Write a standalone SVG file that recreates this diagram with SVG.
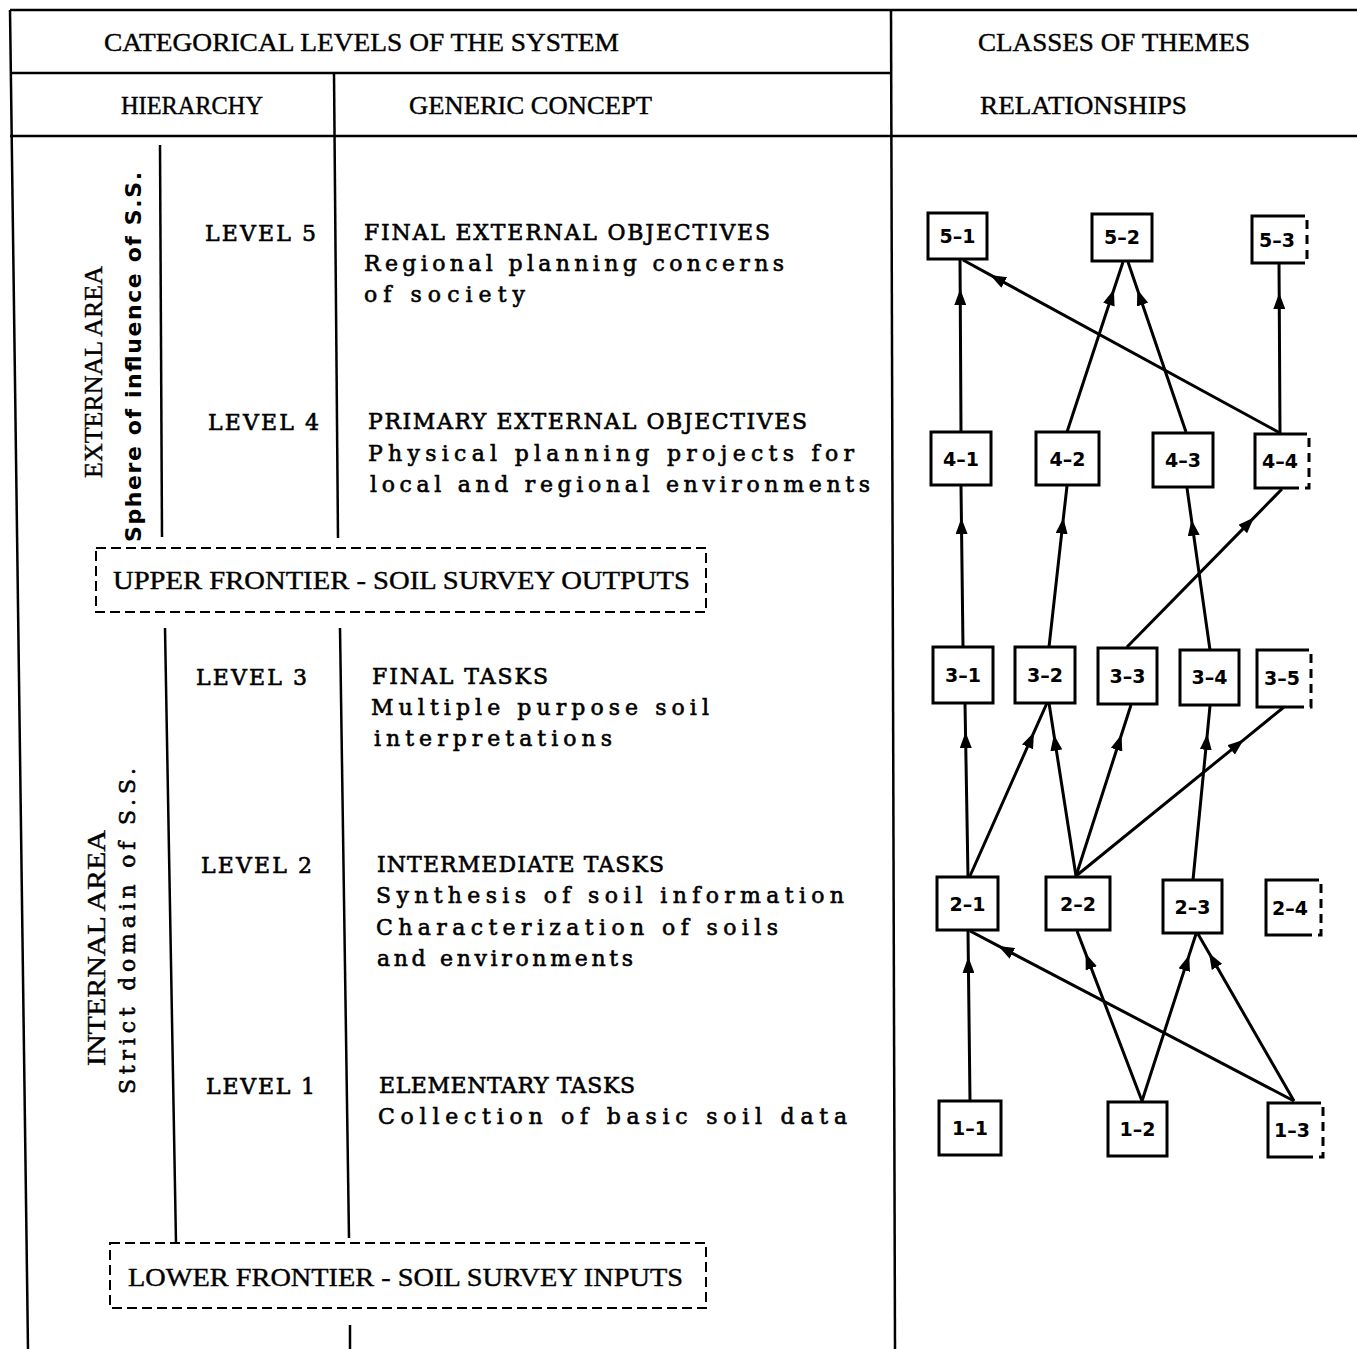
<svg xmlns="http://www.w3.org/2000/svg" width="1357" height="1349" viewBox="0 0 1357 1349">
<style>
.t{font-family:"DejaVu Serif",serif;font-size:22px;fill:#000;stroke:#000;stroke-width:0.6}
.h{font-family:"Liberation Serif",serif;font-size:26px;fill:#000;stroke:#000;stroke-width:0.4}
.s{font-family:"DejaVu Sans",sans-serif;font-size:22px;font-weight:bold;fill:#000}
.n{font-family:"DejaVu Sans",sans-serif;font-size:19px;font-weight:bold;text-anchor:middle;fill:#000}
.box{fill:#fff;stroke:#000;stroke-width:3}
.bs{fill:none;stroke:#000;stroke-width:3}
.bd{fill:none;stroke:#000;stroke-width:3;stroke-dasharray:9,6}
.ln{stroke:#000;stroke-width:2.5;fill:none}
.fr{fill:none;stroke:#000;stroke-width:2;stroke-dasharray:10,5}
.c{stroke:#000;stroke-width:3;fill:none;marker-mid:url(#ah)}
</style>
<defs>
<marker id="ah" markerUnits="userSpaceOnUse" viewBox="0 0 16 12" markerWidth="16" markerHeight="12" refX="16" refY="6" orient="auto">
<path d="M0,0 L16,6 L0,12 z" fill="#000"/>
</marker>
</defs>
<rect width="1357" height="1349" fill="#fff"/>
<g id="table">
<line class="ln" x1="10" y1="10" x2="1357" y2="10" stroke-width="3"/>
<line class="ln" x1="10" y1="73" x2="891" y2="73" stroke-width="3"/>
<line class="ln" x1="10" y1="136" x2="1357" y2="136" stroke-width="3"/>
<line class="ln" x1="10" y1="10" x2="28" y2="1349" stroke-width="2"/>
<line class="ln" x1="891" y1="10" x2="895" y2="1349" stroke-width="2"/>
<line class="ln" x1="334" y1="73" x2="338" y2="538" stroke-width="2"/>
<line class="ln" x1="160" y1="145" x2="162" y2="537" stroke-width="2"/>
<line class="ln" x1="165" y1="628" x2="176" y2="1243" stroke-width="2"/>
<line class="ln" x1="340" y1="628" x2="349" y2="1238" stroke-width="2"/>
<line class="ln" x1="350" y1="1325" x2="350" y2="1349" stroke-width="2"/>
<rect class="fr" x="96" y="548" width="610" height="64"/>
<rect class="fr" x="110" y="1243" width="596" height="65"/>
</g>
<g id="headers">
<text class="h" x="104" y="51" textLength="515" lengthAdjust="spacingAndGlyphs">CATEGORICAL LEVELS OF THE SYSTEM</text>
<text class="h" x="978" y="51" textLength="272" lengthAdjust="spacingAndGlyphs">CLASSES OF THEMES</text>
<text class="h" x="121" y="114" textLength="142" lengthAdjust="spacingAndGlyphs">HIERARCHY</text>
<text class="h" x="409" y="114" textLength="243" lengthAdjust="spacingAndGlyphs">GENERIC CONCEPT</text>
<text class="h" x="980" y="114" textLength="207" lengthAdjust="spacingAndGlyphs">RELATIONSHIPS</text>
<text class="h" x="113" y="589" textLength="577" lengthAdjust="spacingAndGlyphs">UPPER FRONTIER - SOIL SURVEY OUTPUTS</text>
<text class="h" x="128" y="1286" textLength="555" lengthAdjust="spacingAndGlyphs">LOWER FRONTIER - SOIL SURVEY INPUTS</text>
</g>
<g id="areas">
<text class="h" transform="translate(102,478) rotate(-90)" x="0" y="0" textLength="212" lengthAdjust="spacingAndGlyphs">EXTERNAL AREA</text>
<text class="s" transform="translate(141,542) rotate(-90)" x="0" y="0" textLength="370" lengthAdjust="spacing">Sphere of influence of S.S.</text>
<text class="h" transform="translate(105,1066) rotate(-90)" x="0" y="0" textLength="236" lengthAdjust="spacingAndGlyphs">INTERNAL AREA</text>
<text class="t" transform="translate(135,1094) rotate(-90)" x="0" y="0" textLength="326" lengthAdjust="spacing">Strict domain of S.S.</text>
</g>
<g id="levels">
<text class="t" x="205" y="241" textLength="111" lengthAdjust="spacing">LEVEL 5</text>
<text class="t" x="208" y="430" textLength="111" lengthAdjust="spacing">LEVEL 4</text>
<text class="t" x="196" y="685" textLength="111" lengthAdjust="spacing">LEVEL 3</text>
<text class="t" x="201" y="873" textLength="111" lengthAdjust="spacing">LEVEL 2</text>
<text class="t" x="206" y="1094" textLength="109" lengthAdjust="spacing">LEVEL 1</text>
</g>
<g id="concepts">
<text class="t" x="364" y="240" textLength="406" lengthAdjust="spacing">FINAL EXTERNAL OBJECTIVES</text>
<text class="t" x="364" y="271" textLength="420" lengthAdjust="spacing">Regional planning concerns</text>
<text class="t" x="364" y="302" textLength="161" lengthAdjust="spacing">of society</text>
<text class="t" x="368" y="429" textLength="439" lengthAdjust="spacing">PRIMARY EXTERNAL OBJECTIVES</text>
<text class="t" x="368" y="461" textLength="486" lengthAdjust="spacing">Physical planning projects for</text>
<text class="t" x="370" y="492" textLength="500" lengthAdjust="spacing">local and regional environments</text>
<text class="t" x="372" y="684" textLength="176" lengthAdjust="spacing">FINAL TASKS</text>
<text class="t" x="371" y="715" textLength="338" lengthAdjust="spacing">Multiple purpose soil</text>
<text class="t" x="374" y="746" textLength="238" lengthAdjust="spacing">interpretations</text>
<text class="t" x="377" y="872" textLength="287" lengthAdjust="spacing">INTERMEDIATE TASKS</text>
<text class="t" x="376" y="903" textLength="468" lengthAdjust="spacing">Synthesis of soil information</text>
<text class="t" x="376" y="935" textLength="402" lengthAdjust="spacing">Characterization of soils</text>
<text class="t" x="377" y="966" textLength="256" lengthAdjust="spacing">and environments</text>
<text class="t" x="379" y="1093" textLength="256" lengthAdjust="spacing">ELEMENTARY TASKS</text>
<text class="t" x="378" y="1124" textLength="469" lengthAdjust="spacing">Collection of basic soil data</text>
</g>
<g id="connectors">
<path class="c" d="M961,432 L960.2,289 L960,259"/>
<path class="c" d="M1280,433 L990.2,274.9 L963,260"/>
<path class="c" d="M1067,432 L1113.9,289.5 L1123,262"/>
<path class="c" d="M1186,432 L1137.4,289.5 L1128,262"/>
<path class="c" d="M1280,434 L1279.2,293 L1279,264"/>
<path class="c" d="M963,647 L961.4,518 L961,486"/>
<path class="c" d="M1049,647 L1063.4,517.8 L1067,486"/>
<path class="c" d="M1127,647 L1254,517.6 L1282,489"/>
<path class="c" d="M1210,650 L1191.5,519.7 L1187,488"/>
<path class="c" d="M968,876 L965.5,732 L965,703"/>
<path class="c" d="M970,876 L1034,732.2 L1047,703"/>
<path class="c" d="M1076,876 L1053.9,734.6 L1049,703"/>
<path class="c" d="M1076,876 L1121.5,734.5 L1131,705"/>
<path class="c" d="M1076,876 L1243.6,739.8 L1284,707"/>
<path class="c" d="M1193,880 L1207.3,733.9 L1210,706"/>
<path class="c" d="M970,1101 L968.3,957 L968,930"/>
<path class="c" d="M1294,1101 L998.3,945.9 L970,931"/>
<path class="c" d="M1142,1101 L1085.6,953.4 L1077,931"/>
<path class="c" d="M1142,1101 L1189.2,954.9 L1196,934"/>
<path class="c" d="M1294,1101 L1209,953.1 L1198,934"/>
</g>
<g id="n5-1"><rect class="box" x="928" y="213" width="59" height="46"/><text class="n" x="957.5" y="243">5–1</text></g>
<g id="n5-2"><rect class="box" x="1092" y="214" width="60" height="47"/><text class="n" x="1122" y="244">5–2</text></g>
<g id="n5-3"><rect x="1252" y="216" width="55" height="47" fill="#fff"/><path class="bs" d="M1296,216 H1252 V263 H1296"/><path class="bd" d="M1296,216 H1307 V263 H1296"/><text class="n" x="1277" y="247">5–3</text></g>
<g id="n4-1"><rect class="box" x="931" y="432" width="60" height="53"/><text class="n" x="961" y="466">4–1</text></g>
<g id="n4-2"><rect class="box" x="1036" y="432" width="63" height="53"/><text class="n" x="1067.5" y="466">4–2</text></g>
<g id="n4-3"><rect class="box" x="1153" y="433" width="60" height="54"/><text class="n" x="1183" y="467">4–3</text></g>
<g id="n4-4"><rect x="1255" y="434" width="54" height="54" fill="#fff"/><path class="bs" d="M1298,434 H1255 V488 H1298"/><path class="bd" d="M1298,434 H1309 V488 H1298"/><text class="n" x="1280" y="468">4–4</text></g>
<g id="n3-1"><rect class="box" x="933" y="647" width="60" height="56"/><text class="n" x="963" y="682">3–1</text></g>
<g id="n3-2"><rect class="box" x="1015" y="647" width="60" height="56"/><text class="n" x="1045" y="682">3–2</text></g>
<g id="n3-3"><rect class="box" x="1098" y="648" width="59" height="56"/><text class="n" x="1127.5" y="683">3–3</text></g>
<g id="n3-4"><rect class="box" x="1180" y="650" width="59" height="55"/><text class="n" x="1209.5" y="684">3–4</text></g>
<g id="n3-5"><rect x="1257" y="650" width="54" height="57" fill="#fff"/><path class="bs" d="M1300,650 H1257 V707 H1300"/><path class="bd" d="M1300,650 H1311 V707 H1300"/><text class="n" x="1282" y="685">3–5</text></g>
<g id="n2-1"><rect class="box" x="937" y="877" width="61" height="53"/><text class="n" x="967.5" y="911">2–1</text></g>
<g id="n2-2"><rect class="box" x="1046" y="877" width="64" height="53"/><text class="n" x="1078" y="911">2–2</text></g>
<g id="n2-3"><rect class="box" x="1163" y="880" width="59" height="53"/><text class="n" x="1192.5" y="914">2–3</text></g>
<g id="n2-4"><rect x="1266" y="880" width="55" height="55" fill="#fff"/><path class="bs" d="M1310,880 H1266 V935 H1310"/><path class="bd" d="M1310,880 H1321 V935 H1310"/><text class="n" x="1290" y="915">2–4</text></g>
<g id="n1-1"><rect class="box" x="939" y="1101" width="62" height="54"/><text class="n" x="970" y="1135">1–1</text></g>
<g id="n1-2"><rect class="box" x="1108" y="1102" width="59" height="54"/><text class="n" x="1137.5" y="1136">1–2</text></g>
<g id="n1-3"><rect x="1268" y="1103" width="55" height="54" fill="#fff"/><path class="bs" d="M1312,1103 H1268 V1157 H1312"/><path class="bd" d="M1312,1103 H1323 V1157 H1312"/><text class="n" x="1292" y="1137">1–3</text></g>
</svg>
